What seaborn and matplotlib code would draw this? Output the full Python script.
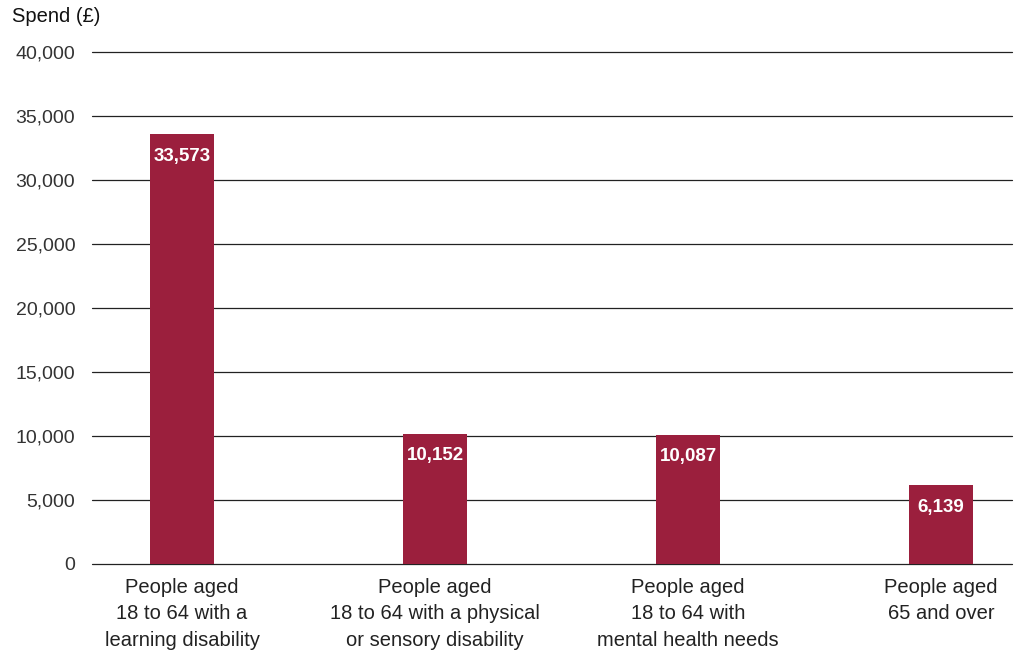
import matplotlib
matplotlib.use("Agg")
import matplotlib.pyplot as plt
import seaborn as sns
import pandas as pd

categories = [
    "People aged\n18 to 64 with a\nlearning disability",
    "People aged\n18 to 64 with a physical\nor sensory disability",
    "People aged\n18 to 64 with\nmental health needs",
    "People aged\n65 and over",
]
values = [33573, 10152, 10087, 6139]
yticks = [0, 5000, 10000, 15000, 20000, 25000, 30000, 35000, 40000]

sns.set_theme(style="white")
plt.rcParams['font.family'] = ['Liberation Sans', 'DejaVu Sans']

df = pd.DataFrame({"cat": categories, "val": values})

fig = plt.figure(figsize=(10.18, 6.52), dpi=100)
ax = fig.add_axes([92/1018, 1-564/652, 920/1018, 512/652])

bar_color = "#9B1F3D"
sns.barplot(data=df, x="cat", y="val", color=bar_color, width=0.253,
            saturation=1, ax=ax, zorder=3)
for p in ax.patches:
    p.set_edgecolor("none")

ax.set_xlim(-0.356, 3.28)
ax.set_ylim(0, 40000)
ax.set_yticks(yticks)
ax.set_yticklabels([f"{v:,}" for v in yticks], fontsize=14, color="#333333")
ax.tick_params(axis="y", length=0, pad=12)
ax.tick_params(axis="x", length=0, pad=10)
ax.set_xticks(range(len(categories)))
ax.set_xticklabels(categories, fontsize=14.5, color="#222222", linespacing=1.5)
ax.set_xlabel("")
ax.set_ylabel("")
for sp in ax.spines.values():
    sp.set_visible(False)
for v in yticks:
    ax.axhline(v, color="#222222", lw=0.9, zorder=1, clip_on=False)

for i, v in enumerate(values):
    ax.text(i, v - 1700, f"{v:,}", ha="center", va="center", color="white",
            fontsize=13.5, fontweight="bold", zorder=4)

fig.text(12/1018, 1-17/652, "Spend (£)", fontsize=14.5, color="#111111",
         ha="left", va="center")

fig.savefig("out.png", dpi=100)
